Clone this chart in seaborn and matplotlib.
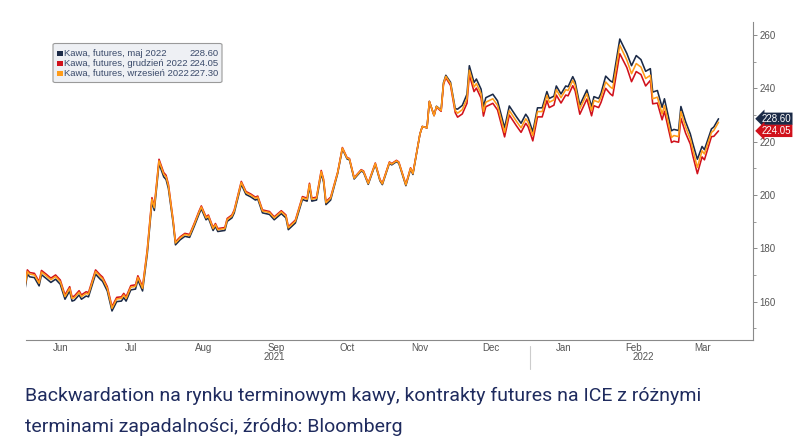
import matplotlib
matplotlib.use("Agg")
import matplotlib.pyplot as plt
import matplotlib.dates as mdates
from matplotlib.patches import FancyBboxPatch, Rectangle
import pandas as pd
import seaborn as sns

# ---------------- data ----------------
dates = [
    "2021-05-31", "2021-06-01", "2021-06-02", "2021-06-04", "2021-06-06", "2021-06-07", "2021-06-09",
    "2021-06-11", "2021-06-13", "2021-06-15", "2021-06-17", "2021-06-19", "2021-06-20", "2021-06-21",
    "2021-06-23", "2021-06-24", "2021-06-26", "2021-06-27", "2021-06-30", "2021-07-02", "2021-07-03",
    "2021-07-05", "2021-07-07", "2021-07-09", "2021-07-11", "2021-07-12", "2021-07-13", "2021-07-15",
    "2021-07-17", "2021-07-18", "2021-07-20", "2021-07-22", "2021-07-24", "2021-07-25", "2021-07-27",
    "2021-07-29", "2021-07-30", "2021-07-31", "2021-08-02", "2021-08-03", "2021-08-05", "2021-08-07",
    "2021-08-09", "2021-08-11", "2021-08-13", "2021-08-14", "2021-08-16", "2021-08-17", "2021-08-19",
    "2021-08-20", "2021-08-21", "2021-08-24", "2021-08-25", "2021-08-27", "2021-08-28", "2021-08-31",
    "2021-09-02", "2021-09-04", "2021-09-06", "2021-09-07", "2021-09-09", "2021-09-12", "2021-09-14",
    "2021-09-17", "2021-09-19", "2021-09-20", "2021-09-23", "2021-09-26", "2021-09-28", "2021-09-29",
    "2021-09-30", "2021-10-02", "2021-10-04", "2021-10-05", "2021-10-06", "2021-10-08", "2021-10-11",
    "2021-10-13", "2021-10-15", "2021-10-16", "2021-10-18", "2021-10-21", "2021-10-22", "2021-10-24",
    "2021-10-27", "2021-10-29", "2021-10-30", "2021-11-02", "2021-11-03", "2021-11-05", "2021-11-06",
    "2021-11-09", "2021-11-11", "2021-11-12", "2021-11-15", "2021-11-16", "2021-11-18", "2021-11-19",
    "2021-11-21", "2021-11-22", "2021-11-24", "2021-11-25", "2021-11-26", "2021-11-28", "2021-11-30",
    "2021-12-01", "2021-12-03", "2021-12-05", "2021-12-06", "2021-12-08", "2021-12-09", "2021-12-11",
    "2021-12-12", "2021-12-13", "2021-12-16", "2021-12-18", "2021-12-21", "2021-12-23", "2021-12-26",
    "2021-12-28", "2021-12-30", "2021-12-31", "2022-01-02", "2022-01-04", "2022-01-06", "2022-01-08",
    "2022-01-09", "2022-01-11", "2022-01-12", "2022-01-14", "2022-01-16", "2022-01-17", "2022-01-19",
    "2022-01-20", "2022-01-22", "2022-01-25", "2022-01-27", "2022-01-28", "2022-01-30", "2022-01-31",
    "2022-02-02", "2022-02-04", "2022-02-05", "2022-02-08", "2022-02-11", "2022-02-13", "2022-02-15",
    "2022-02-17", "2022-02-19", "2022-02-21", "2022-02-22", "2022-02-24", "2022-02-26", "2022-02-27",
    "2022-03-02", "2022-03-03", "2022-03-05", "2022-03-06", "2022-03-08", "2022-03-10", "2022-03-11",
    "2022-03-13", "2022-03-15", "2022-03-16", "2022-03-19", "2022-03-20", "2022-03-22",
]

# Kawa, futures, wrzesień 2022
sep_2022 = [
    165.7, 171.3, 170.3, 170.0, 166.9, 171.1, 169.7, 168.2, 169.4, 167.5, 161.9, 165.0, 161.2, 161.5,
    163.5, 161.9, 163.1, 162.8, 171.3, 169.4, 168.6, 165.0, 157.5, 161.0, 161.2, 162.5, 161.2, 165.4,
    165.7, 169.1, 165.0, 178.9, 198.4, 195.2, 212.8, 207.8, 206.8, 203.4, 190.2, 182.0, 183.9, 185.2,
    184.8, 189.0, 193.5, 195.5, 191.4, 192.1, 187.4, 188.9, 187.0, 187.4, 190.8, 192.1, 194.0, 204.7,
    200.9, 200.0, 198.8, 199.2, 194.0, 193.4, 191.4, 193.7, 192.1, 187.7, 190.2, 199.0, 198.4, 204.0,
    198.4, 198.8, 208.8, 205.5, 197.1, 198.8, 208.4, 217.6, 213.8, 213.5, 206.3, 209.3, 208.8, 204.3,
    211.8, 205.6, 204.2, 212.2, 211.6, 212.8, 212.2, 203.8, 210.0, 208.0, 222.9, 225.7, 225.2, 235.1,
    229.8, 233.2, 231.7, 241.8, 244.5, 241.8, 231.7, 230.7, 232.0, 236.1, 246.8, 240.5, 241.8, 238.0,
    231.3, 234.8, 236.1, 233.6, 223.5, 231.7, 227.7, 225.2, 228.6, 227.3, 222.3, 231.3, 231.3, 237.4,
    234.8, 235.7, 239.5, 236.5, 239.5, 239.2, 243.0, 241.1, 232.3, 238.0, 231.7, 235.5, 234.8, 236.7,
    242.4, 240.5, 239.9, 256.2, 250.6, 245.5, 249.3, 248.0, 243.7, 244.9, 236.1, 236.7, 230.4, 233.6,
    221.6, 222.3, 221.9, 231.3, 225.5, 221.0, 217.3, 210.3, 216.6, 215.4, 223.5, 224.2, 227.3,
]

# Kawa, futures, maj 2022
may_2022 = [
    164.7, 170.3, 169.3, 169.0, 165.9, 170.1, 168.7, 167.2, 168.4, 166.5, 160.9, 164.0, 160.2, 160.5,
    162.5, 160.9, 162.1, 161.8, 170.3, 168.4, 167.6, 164.0, 156.5, 160.0, 160.2, 161.5, 160.2, 164.4,
    164.7, 168.1, 164.0, 177.9, 197.4, 194.2, 211.8, 206.8, 205.8, 202.4, 189.5, 181.3, 183.2, 184.5,
    184.1, 188.3, 192.8, 194.8, 190.7, 191.4, 186.7, 188.2, 186.3, 186.7, 190.1, 191.4, 193.3, 204.0,
    200.2, 199.3, 198.1, 198.5, 193.3, 192.7, 190.7, 193.0, 191.4, 187.0, 189.5, 198.3, 197.7, 203.3,
    197.7, 198.1, 208.1, 204.8, 196.4, 198.1, 208.1, 217.3, 213.5, 213.2, 206.0, 209.0, 208.5, 204.0,
    211.5, 205.3, 203.9, 211.9, 211.3, 212.5, 211.9, 203.5, 209.7, 207.7, 222.9, 225.7, 225.2, 235.1,
    229.8, 233.3, 231.9, 242.1, 244.9, 242.3, 232.4, 232.2, 233.6, 237.8, 248.5, 242.2, 243.5, 239.7,
    233.0, 236.5, 237.8, 235.3, 225.2, 233.4, 229.4, 226.9, 230.3, 229.0, 223.7, 232.7, 232.7, 238.8,
    236.2, 237.1, 240.9, 237.9, 240.9, 240.6, 244.4, 242.5, 233.7, 239.4, 233.1, 236.9, 236.2, 238.1,
    244.6, 242.8, 242.3, 258.5, 253.1, 248.5, 252.3, 250.8, 246.4, 247.4, 238.6, 239.2, 232.9, 236.1,
    224.1, 224.6, 224.2, 233.2, 227.5, 222.9, 219.5, 213.4, 218.2, 217.0, 224.8, 225.5, 228.6,
]

# Kawa, futures, grudzień 2022
dec_2022 = [
    166.3, 171.9, 170.9, 170.6, 167.5, 171.7, 170.3, 168.8, 170.0, 168.1, 162.5, 165.6, 161.8, 162.1,
    164.1, 162.5, 163.7, 163.4, 171.9, 170.0, 169.2, 165.6, 158.1, 161.6, 161.8, 163.1, 161.8, 166.0,
    166.3, 169.7, 165.6, 179.5, 199.0, 195.8, 213.4, 208.4, 207.4, 204.0, 190.6, 182.4, 184.3, 185.6,
    185.2, 189.4, 193.9, 195.9, 191.8, 192.5, 187.8, 189.3, 187.4, 187.8, 191.2, 192.5, 194.4, 205.1,
    201.3, 200.4, 199.2, 199.6, 194.4, 193.8, 191.8, 194.1, 192.5, 188.1, 190.6, 199.4, 198.8, 204.4,
    198.8, 199.2, 209.2, 205.9, 197.5, 199.2, 208.6, 217.8, 214.0, 213.7, 206.5, 209.5, 209.0, 204.5,
    212.0, 205.8, 204.4, 212.4, 211.8, 213.0, 212.4, 204.0, 210.2, 208.2, 222.9, 225.7, 225.2, 235.1,
    229.8, 233.0, 231.4, 241.4, 244.0, 241.1, 230.9, 229.2, 230.4, 234.4, 245.1, 238.8, 240.1, 236.3,
    229.6, 233.1, 234.4, 231.9, 221.8, 230.0, 226.0, 223.5, 226.9, 225.6, 220.3, 229.3, 229.3, 235.4,
    232.8, 233.7, 237.5, 234.5, 237.5, 237.2, 241.0, 239.1, 230.3, 236.0, 229.7, 233.5, 232.8, 234.7,
    240.0, 237.9, 237.2, 253.0, 247.8, 242.5, 246.3, 245.2, 240.9, 243.0, 234.2, 234.5, 228.2, 231.4,
    219.7, 220.2, 219.8, 228.8, 223.2, 219.1, 215.0, 208.0, 214.3, 213.2, 221.9, 222.0, 224.05,
]

series_names = ["Kawa, futures, maj 2022", "Kawa, futures, grudzień 2022", "Kawa, futures, wrzesień 2022"]
last_values = ["228.60", "224.05", "227.30"]
series_colors = ["#1b2a47", "#d0111b", "#ff9c1a"]

month_labels = ["Jun", "Jul", "Aug", "Sep", "Oct", "Nov", "Dec", "Jan", "Feb", "Mar"]
month_mid_dates = ["2021-06-15", "2021-07-15", "2021-08-15", "2021-09-15", "2021-10-15",
                   "2021-11-15", "2021-12-15", "2022-01-15", "2022-02-14", "2022-03-15"]
year_labels = ["2021", "2022"]
year_label_dates = ["2021-09-14", "2022-02-18"]
y_ticks = [160, 180, 200, 220, 240, 260]

title_lines = [
    "Backwardation na rynku terminowym kawy, kontrakty futures na ICE z różnymi",
    "terminami zapadalności, źródło: Bloomberg",
]

# ---------------- build long table ----------------
dt = pd.to_datetime(dates)
df = pd.concat([
    pd.DataFrame({"date": dt, "value": may_2022, "series": series_names[0]}),
    pd.DataFrame({"date": dt, "value": dec_2022, "series": series_names[1]}),
    pd.DataFrame({"date": dt, "value": sep_2022, "series": series_names[2]}),
], ignore_index=True)

sns.set_theme(style="white")
plt.rcParams["font.family"] = ["Liberation Sans", "DejaVu Sans"]

W, H = 800, 445
fig = plt.figure(figsize=(W / 100, H / 100), dpi=100)
ax_l, ax_r, ax_t, ax_b = 26, 753, 22, 340
ax = fig.add_axes([ax_l / W, 1 - ax_b / H, (ax_r - ax_l) / W, (ax_b - ax_t) / H])

palette = dict(zip(series_names, series_colors))
sns.lineplot(data=df, x="date", y="value", hue="series", hue_order=series_names,
             palette=palette, legend=False, linewidth=1.15, ax=ax)

ax.set_xlim(pd.Timestamp("2021-05-31 10:00"), pd.Timestamp("2022-04-05 16:00"))
ax.set_ylim(145.6, 264.9)
ax.set_xlabel("")
ax.set_ylabel("")

# spines
for s in ["top", "left"]:
    ax.spines[s].set_visible(False)
for s in ["bottom", "right"]:
    ax.spines[s].set_color("#8a8a8a")
    ax.spines[s].set_linewidth(0.8)

# y axis on right
ax.yaxis.tick_right()
ax.set_yticks(y_ticks)
ax.set_yticklabels([str(v) for v in y_ticks])
ax.set_yticks([150, 170, 190, 210, 230, 250], minor=True)
ax.tick_params(axis="y", which="major", direction="out", length=3, width=0.7,
               color="#8a8a8a", labelsize=7, labelcolor="#555555", pad=1.5)
ax.tick_params(axis="y", which="minor", direction="out", length=2, width=0.6, color="#8a8a8a")

# x axis: ticks at month starts, labels mid-month
ax.xaxis.set_major_locator(mdates.MonthLocator(bymonthday=1))
ax.xaxis.set_major_formatter(plt.NullFormatter())
ax.set_xticks(pd.to_datetime(month_mid_dates), minor=True)
ax.set_xticklabels(month_labels, minor=True)
ax.tick_params(axis="x", which="major", direction="out", length=3, width=0.6, color="#8a8a8a")
ax.tick_params(axis="x", which="minor", length=0, labelsize=7, labelcolor="#555555", pad=2)

# year labels and separator
xtr = ax.get_xaxis_transform()
for lab, d in zip(year_labels, year_label_dates):
    ax.text(pd.Timestamp(d), -0.052, lab, transform=xtr, ha="center", va="center",
            fontsize=7, color="#555555")
ax.plot([pd.Timestamp("2022-01-01")] * 2, [-0.02, -0.09], transform=xtr, color="#cccccc",
        linewidth=0.8, clip_on=False)

# legend box
ftr = fig.transFigure
def fx(x):
    return x / W
def fy(y):
    return 1 - y / H

box = FancyBboxPatch((fx(53), fy(82.5)), fx(222) - fx(53), fy(43.5) - fy(82.5),
                     boxstyle="round,pad=0,rounding_size=0.003", transform=ftr,
                     facecolor="#eef0f4", edgecolor="#9a9a9a", linewidth=0.8)
fig.add_artist(box)
rows_y = [53.5, 63.3, 73.1]
for name, val, col, yy in zip(series_names, last_values, series_colors, rows_y):
    fig.add_artist(Rectangle((fx(57.5), fy(yy + 2.6)), fx(5) - fx(0), fy(0) - fy(5),
                             transform=ftr, facecolor=col, edgecolor="none"))
    fig.text(fx(64), fy(yy), name, fontsize=6.8, color="#3a4a6a", va="center", ha="left")
    fig.text(fx(219), fy(yy), val, fontsize=6.8, color="#3a4a6a", va="center", ha="right")

# value tags on the right axis
ytr = ax.get_yaxis_transform()
tags = [(float(last_values[0]), last_values[0], series_colors[0]),
        (float(last_values[1]), last_values[1], series_colors[1])]
for v, txt, col in tags:
    ax.text(1.012, v, txt, transform=ytr, ha="left", va="center", fontsize=7, color="white",
            clip_on=False,
            bbox=dict(boxstyle="larrow,pad=0.12", facecolor=col, edgecolor="none"))

# caption
for i, line in enumerate(title_lines):
    fig.text(25 / W, fy(396 + 31 * i), line, fontsize=14, family=["Roboto", "DejaVu Sans"],
             color="#1f2b5e", va="center", ha="left")

fig.savefig("out.png", dpi=100, facecolor="white")
